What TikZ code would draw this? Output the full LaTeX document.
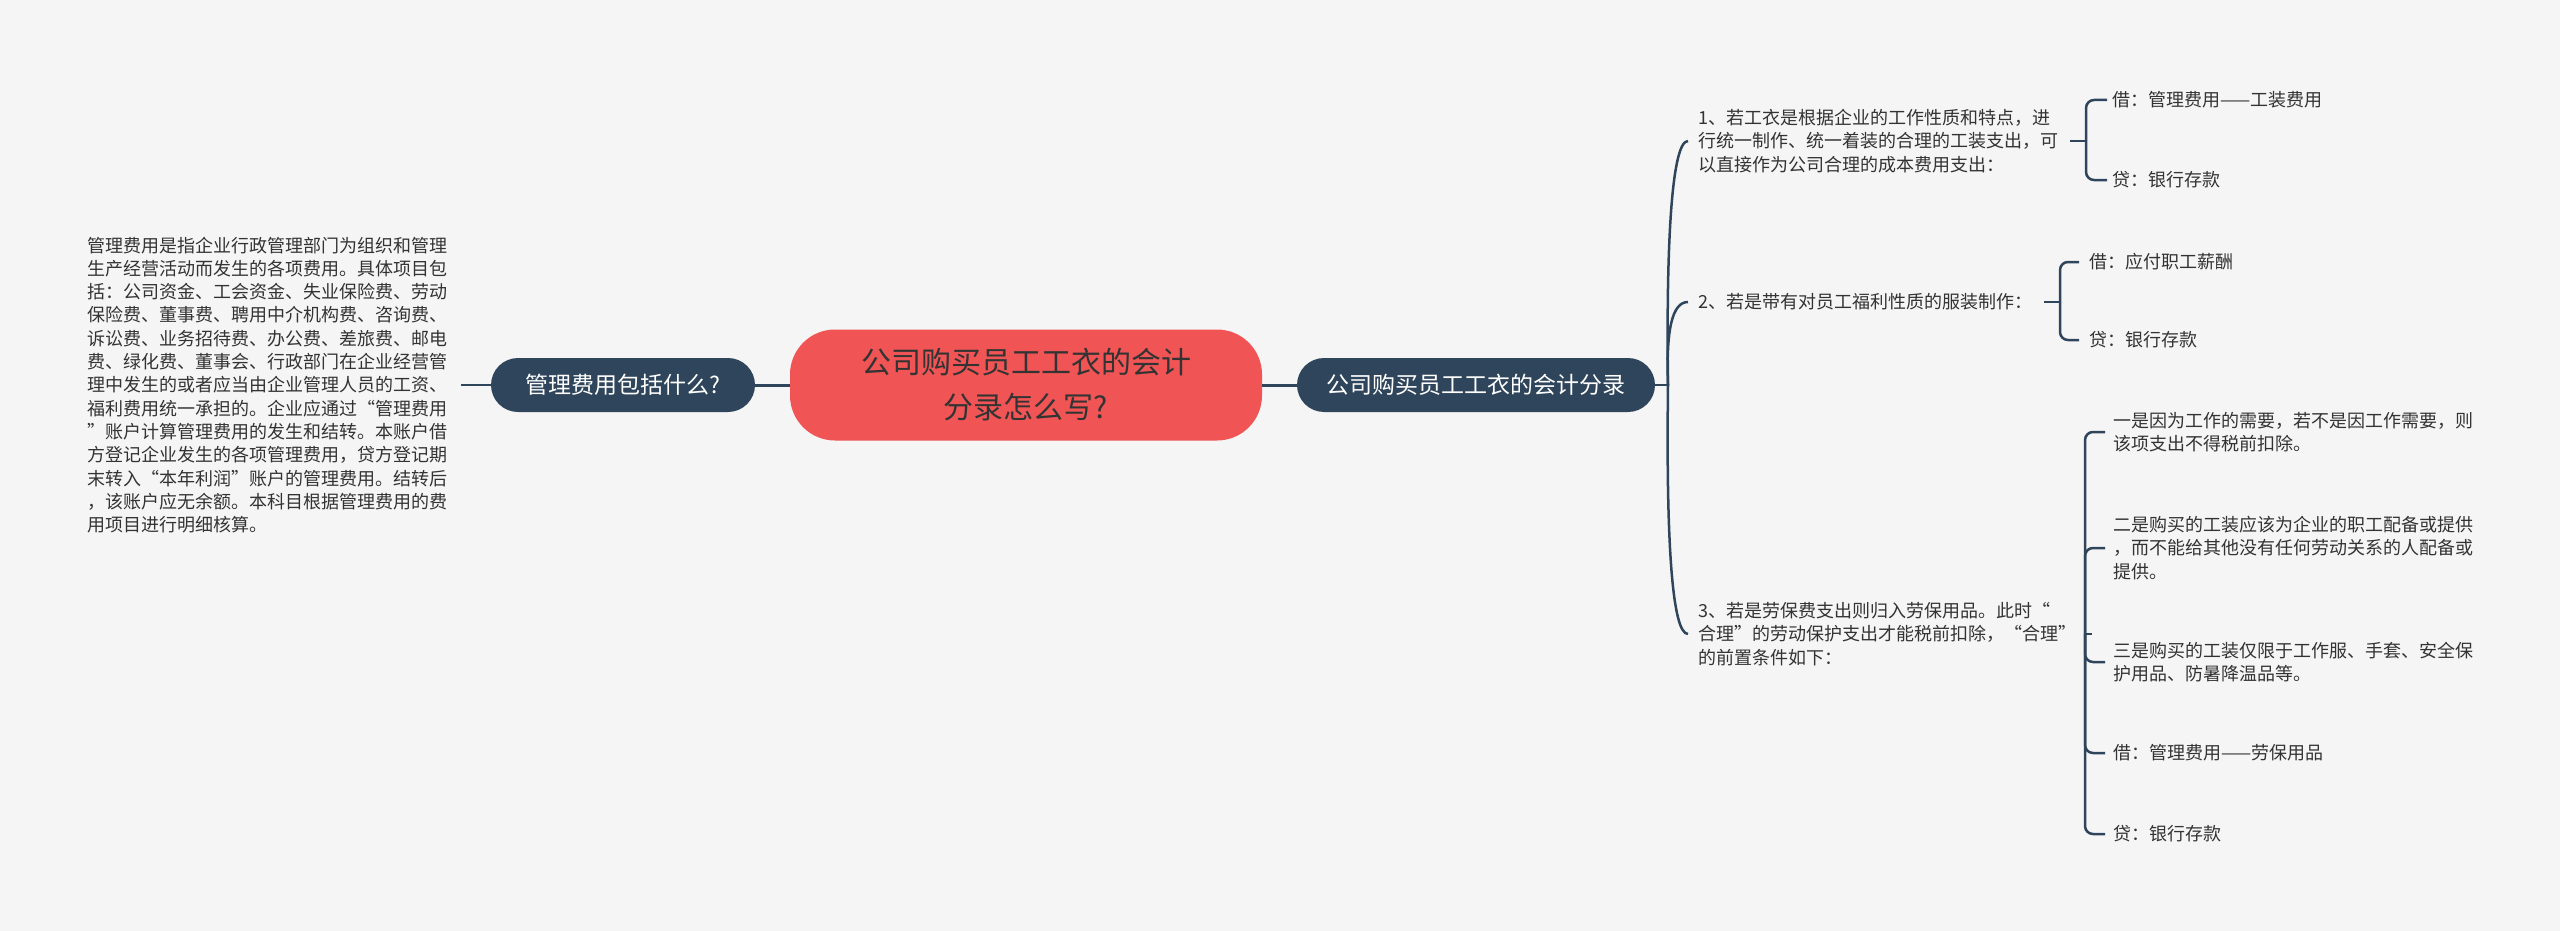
\documentclass[tikz,border=0pt]{standalone}
\usepackage{fontspec}
\setmainfont{Noto Sans CJK SC}
\definecolor{bgc}{HTML}{F5F5F5}
\definecolor{redc}{HTML}{F05454}
\definecolor{darkc}{HTML}{2F455C}
\definecolor{linec}{HTML}{2F455C}
\definecolor{textc}{HTML}{333333}
\begin{document}
\begin{tikzpicture}[x=1pt,y=-1pt,
  conn/.style={draw=linec, line width=2.5pt},
  txt/.style={anchor=west, inner sep=0pt, align=left, text=textc, font=\fontsize{18}{23.3}\selectfont},
  topic/.style={fill=darkc, text=white, rounded corners=27pt, minimum height=54pt, inner sep=0pt, font=\fontsize{23}{28}\selectfont},
  hook/.style={conn, rounded corners=8pt}]
\fill[bgc] (0,0) rectangle (2560,931);
\useasboundingbox (0,0) rectangle (2560,931);

% root and topics
\node[fill=redc, rounded corners=45pt, minimum width=472pt, minimum height=111pt, inner sep=0pt, align=center, text=textc, font=\fontsize{30}{45}\selectfont] (root) at (1026,385) {公司购买员工工衣的会计\\分录怎么写?};
\node[topic, minimum width=264pt] (L) at (623,385) {管理费用包括什么?};
\node[topic, minimum width=358pt] (R) at (1476,385) {公司购买员工工衣的会计分录};

% left paragraph
\node[txt] (para) at (87,385) {管理费用是指企业行政管理部门为组织和管理\\生产经营活动而发生的各项费用。具体项目包\\括：公司资金、工会资金、失业保险费、劳动\\保险费、董事费、聘用中介机构费、咨询费、\\诉讼费、业务招待费、办公费、差旅费、邮电\\费、绿化费、董事会、行政部门在企业经营管\\理中发生的或者应当由企业管理人员的工资、\\福利费用统一承担的。企业应通过“管理费用\\”账户计算管理费用的发生和结转。本账户借\\方登记企业发生的各项管理费用，贷方登记期\\末转入“本年利润”账户的管理费用。结转后\\，该账户应无余额。本科目根据管理费用的费\\用项目进行明细核算。};

% right children
\node[txt] (c1) at (1698,141) {1、若工衣是根据企业的工作性质和特点，进\\行统一制作、统一着装的合理的工装支出，可\\以直接作为公司合理的成本费用支出：};
\node[txt] (c2) at (1698,302) {2、若是带有对员工福利性质的服装制作：};
\node[txt] (c3) at (1698,634) {3、若是劳保费支出则归入劳保用品。此时“\\合理”的劳动保护支出才能税前扣除，“合理”\\的前置条件如下：};

\node[txt] (d11) at (2112,100) {借：管理费用——工装费用};
\node[txt] (d12) at (2112,180) {贷：银行存款};
\node[txt] (d21) at (2089,262) {借：应付职工薪酬};
\node[txt] (d22) at (2089,340) {贷：银行存款};
\node[txt] (d31) at (2113,432) {一是因为工作的需要，若不是因工作需要，则\\该项支出不得税前扣除。};
\node[txt] (d32) at (2113,548) {二是购买的工装应该为企业的职工配备或提供\\，而不能给其他没有任何劳动关系的人配备或\\提供。};
\node[txt] (d33) at (2113,662) {三是购买的工装仅限于工作服、手套、安全保\\护用品、防暑降温品等。};
\node[txt] (d34) at (2113,753) {借：管理费用——劳保用品};
\node[txt] (d35) at (2113,834) {贷：银行存款};

% connectors
\draw[conn, line width=3pt] (root.west) -- (L.east);
\draw[conn, line width=3pt] (root.east) -- (R.west);
\draw[conn] (L.west) -- ([xshift=14pt]para.east);

\coordinate (br) at (1668,385);
\draw[conn] (R.east) -- (br);
\draw[conn] (br) .. controls (1666,240) and (1672,141) .. ([xshift=-10pt]c1.west);
\draw[conn] (br) .. controls (1666,330) and (1672,302) .. ([xshift=-10pt]c2.west);
\draw[conn] (br) .. controls (1666,540) and (1672,634) .. ([xshift=-10pt]c3.west);

\coordinate (j1) at (2086,141);
\draw[conn] ([xshift=12pt]c1.east) -- (j1);
\draw[hook] (j1) |- ([xshift=-5pt]d11.west);
\draw[hook] (j1) |- ([xshift=-5pt]d12.west);

\coordinate (j2) at (2060,302);
\draw[conn] ([xshift=12pt]c2.east) -- (j2);
\draw[hook] (j2) |- ([xshift=-10pt]d21.west);
\draw[hook] (j2) |- ([xshift=-10pt]d22.west);

\coordinate (j3) at (2085,634);
\draw[conn] ([xshift=16pt]c3.east) -- (j3);
\draw[hook] (j3) |- ([xshift=-8pt]d31.west);
\draw[hook] (j3) |- ([xshift=-8pt]d32.west);
\draw[hook] (j3) |- ([xshift=-8pt]d33.west);
\draw[hook] (j3) |- ([xshift=-8pt]d34.west);
\draw[hook] (j3) |- ([xshift=-8pt]d35.west);
\end{tikzpicture}
\end{document}
